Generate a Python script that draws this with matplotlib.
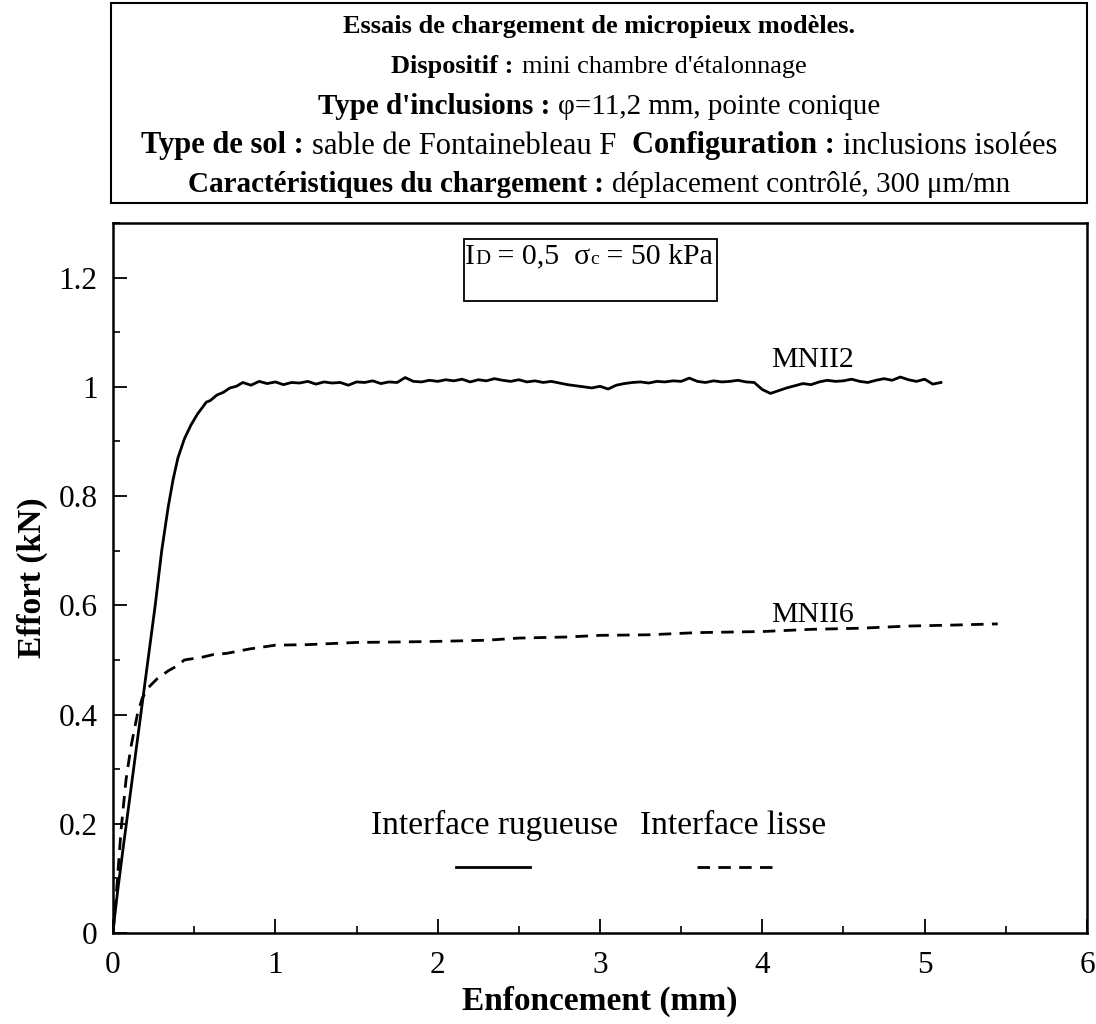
import matplotlib
matplotlib.use("Agg")
import matplotlib.pyplot as plt
from matplotlib.patches import Rectangle
from matplotlib.offsetbox import TextArea, HPacker, AnnotationBbox
from matplotlib.ticker import MultipleLocator

plt.rcParams['font.family'] = ['Liberation Serif', 'DejaVu Serif']

# --- data ---
# MNII2 : interface rugueuse (trait plein)
x_mnii2 = [0.00, 0.01, 0.03, 0.06, 0.10, 0.14, 0.18, 0.22, 0.26, 0.30, 0.34,
           0.37, 0.40, 0.44, 0.48, 0.52, 0.55, 0.575, 0.60, 0.64, 0.68, 0.72,
           0.76, 0.80, 0.85, 0.90, 0.95, 1.00, 1.05, 1.10, 1.15, 1.20, 1.25,
           1.30, 1.35, 1.40, 1.45, 1.50, 1.55, 1.60, 1.65, 1.70, 1.75, 1.80,
           1.85, 1.90, 1.95, 2.00, 2.05, 2.10, 2.15, 2.20, 2.25, 2.30, 2.35,
           2.40, 2.45, 2.50, 2.55, 2.60, 2.65, 2.70, 2.75, 2.80, 2.85, 2.90,
           2.95, 3.00, 3.05, 3.10, 3.15, 3.20, 3.25, 3.30, 3.35, 3.40, 3.45,
           3.50, 3.55, 3.60, 3.65, 3.70, 3.75, 3.80, 3.85, 3.90, 3.95, 4.00,
           4.05, 4.10, 4.15, 4.20, 4.25, 4.30, 4.35, 4.40, 4.45, 4.50, 4.55,
           4.60, 4.65, 4.70, 4.75, 4.80, 4.85, 4.90, 4.95, 5.00, 5.05, 5.10]
y_mnii2 = [0.000, 0.030, 0.080, 0.150, 0.240, 0.330, 0.420, 0.510, 0.600, 0.700, 0.780,
           0.830, 0.870, 0.905, 0.930, 0.950, 0.962, 0.972, 0.975, 0.985, 0.990, 0.998,
           1.001, 1.008, 1.003, 1.010, 1.006, 1.009, 1.004, 1.008, 1.007, 1.010, 1.005,
           1.009, 1.007, 1.008, 1.003, 1.009, 1.008, 1.011, 1.006, 1.009, 1.008, 1.017,
           1.010, 1.009, 1.012, 1.010, 1.013, 1.011, 1.014, 1.009, 1.013, 1.011, 1.015,
           1.012, 1.010, 1.013, 1.009, 1.011, 1.008, 1.010, 1.007, 1.004, 1.002, 1.000,
           0.998, 1.001, 0.996, 1.003, 1.006, 1.008, 1.009, 1.007, 1.010, 1.009, 1.011,
           1.010, 1.016, 1.010, 1.008, 1.011, 1.009, 1.010, 1.012, 1.009, 1.008, 0.995,
           0.988, 0.993, 0.998, 1.002, 1.006, 1.004, 1.009, 1.012, 1.010, 1.011, 1.014,
           1.010, 1.008, 1.012, 1.015, 1.012, 1.018, 1.013, 1.010, 1.014, 1.005, 1.008]

# MNII6 : interface lisse (tirets)
x_mnii6 = [0.00, 0.02, 0.05, 0.08, 0.11, 0.15, 0.18, 0.22, 0.27, 0.34, 0.40,
           0.44, 0.55, 0.62, 0.70, 0.84, 1.00, 1.20, 1.50, 1.80, 2.00, 2.30,
           2.50, 2.80, 3.00, 3.30, 3.60, 4.00, 4.30, 4.60, 4.90, 5.20, 5.45]
y_mnii6 = [0.000, 0.070, 0.190, 0.280, 0.340, 0.400, 0.430, 0.450, 0.465, 0.480, 0.490,
           0.500, 0.505, 0.510, 0.512, 0.520, 0.527, 0.528, 0.532, 0.533, 0.534, 0.536,
           0.540, 0.542, 0.545, 0.546, 0.550, 0.552, 0.556, 0.558, 0.562, 0.564, 0.566]

header_lines = [
    [("Essais de chargement de micropieux modèles.", "bold")],
    [("Dispositif :", "bold"), ("mini chambre d'étalonnage", "normal")],
    [("Type d'inclusions :", "bold"), ("φ=11,2 mm, pointe conique", "normal")],
    [("Type de sol :", "bold"), ("sable de Fontainebleau F ", "normal"),
     ("Configuration :", "bold"), ("inclusions isolées", "normal")],
    [("Caractéristiques du chargement :", "bold"),
     ("déplacement contrôlé, 300 μm/mn", "normal")],
]
header_sizes = [19, 19, 21, 22, 21]
header_y_px = [26, 66, 106, 146, 185]

cond_parts = [("I", 21.5), ("D", 15), (" = 0,5  σ", 21.5), ("c", 14),
              (" = 50 kPa", 21.5)]

W, H = 1096, 1024
fig = plt.figure(figsize=(W / 100, H / 100), dpi=100)
fig.patch.set_facecolor("white")

# --- header box ---
fig.patches.append(Rectangle((111 / W, 1 - 203 / H), (1087 - 111) / W, 200 / H,
                             transform=fig.transFigure, fill=False,
                             edgecolor="black", linewidth=1.5))
for parts, size, ypx in zip(header_lines, header_sizes, header_y_px):
    boxes = [TextArea(t, textprops=dict(fontsize=size, fontweight=w, color="black"))
             for t, w in parts]
    line = HPacker(children=boxes, align="baseline", pad=0, sep=6)
    ab = AnnotationBbox(line, (599 / W, 1 - ypx / H), xycoords="figure fraction",
                        frameon=False, box_alignment=(0.5, 0.5), pad=0)
    fig.add_artist(ab)

# --- main axes ---
ax = fig.add_axes([113 / W, 1 - 933 / H, (1087 - 113) / W, (933 - 223) / H])
ax.plot(x_mnii2, y_mnii2, color="black", linewidth=2.0)
ax.plot(x_mnii6, y_mnii6, color="black", linewidth=2.0, linestyle=(0, (4.5, 3)))

ax.set_xlim(0, 6)
ax.set_ylim(0, 1.3)
ax.xaxis.set_major_locator(MultipleLocator(1))
ax.xaxis.set_minor_locator(MultipleLocator(0.5))
ax.yaxis.set_minor_locator(MultipleLocator(0.1))
ax.set_yticks([0, 0.2, 0.4, 0.6, 0.8, 1.0, 1.2])
ax.set_yticklabels(["0", "0.2", "0.4", "0.6", "0.8", "1", "1.2"])
ax.tick_params(which="major", direction="in", length=10, width=1.3,
               labelsize=22.5)
ax.tick_params(axis="x", which="major", pad=13)
ax.tick_params(axis="y", which="major", pad=11)
ax.tick_params(which="minor", direction="in", length=5, width=1.2)
for s in ax.spines.values():
    s.set_linewidth(1.8)

ax.set_xlabel("Enfoncement (mm)", fontsize=24, fontweight="bold", labelpad=4)
ax.set_ylabel("Effort (kN)", fontsize=24, fontweight="bold", labelpad=8)

# condition box
ax.add_patch(Rectangle((2.16, 1.157), 1.56, 0.113, fill=False,
                       edgecolor="black", linewidth=1.3))
cond = HPacker(children=[TextArea(t, textprops=dict(fontsize=s)) for t, s in cond_parts],
               align="baseline", pad=0, sep=0)
ax.add_artist(AnnotationBbox(cond, (2.17, 1.238), xycoords="data", frameon=False,
                             box_alignment=(0, 0.5), pad=0))

ax.text(4.31, 1.05, "MNII2", fontsize=21.5, ha="center", va="center")
ax.text(4.31, 0.583, "MNII6", fontsize=21.5, ha="center", va="center")

# legend drawn by hand
ax.text(2.35, 0.197, "Interface rugueuse", fontsize=24, ha="center", va="center")
ax.text(3.82, 0.197, "Interface lisse", fontsize=24, ha="center", va="center")
ax.plot([2.11, 2.57], [0.12, 0.12], color="black", linewidth=2.0)
ax.plot([3.60, 4.06], [0.12, 0.12], color="black", linewidth=2.0,
        linestyle=(0, (4.5, 3)))

fig.savefig("out.png", dpi=100, facecolor="white")
